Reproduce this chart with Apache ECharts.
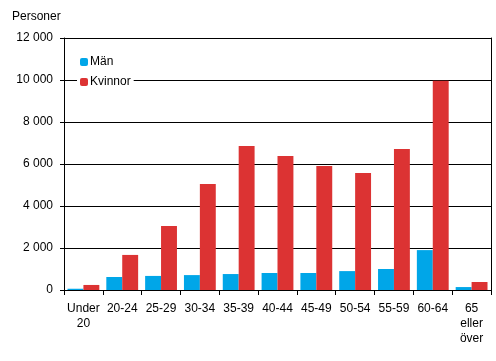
<!DOCTYPE html>
<html><head><meta charset="utf-8">
<script src="https://cdn.jsdelivr.net/npm/echarts@6/dist/echarts.min.js"></script>
<style>html,body{margin:0;padding:0;background:#fff}#c{width:496px;height:361px}</style>
</head><body><div id="c"></div>
<script>
var categories = ['Under\n20','20-24','25-29','30-34','35-39','40-44','45-49','50-54','55-59','60-64','65\neller\növer'];
var man = [60, 620, 670, 710, 760, 810, 810, 900, 1000, 1900, 140];
var kvinnor = [240, 1670, 3050, 5050, 6860, 6380, 5900, 5570, 6710, 9970, 380];
var yTicks = [0, 2000, 4000, 6000, 8000, 10000, 12000];
var font = 'Liberation Sans, Arial, sans-serif';
function fmt(v){ return v >= 1000 ? Math.floor(v/1000) + ' ' + String(v%1000).padStart(3,'0') : String(v); }
var chart = echarts.init(document.getElementById('c'));
chart.setOption({
  animation: false,
  textStyle: {fontFamily: font},
  grid: {left: 64, right: 5, top: 38, bottom: 71, containLabel: false},
  legend: {
    orient: 'vertical', left: 77, top: 54, itemWidth: 8, itemHeight: 8, itemGap: 8,
    backgroundColor: '#fff', padding: [2, 3, 2, 3],
    textStyle: {fontFamily: font, fontSize: 12, color: '#000', padding: [0,0,0,-3]},
    data: ['Män', 'Kvinnor']
  },
  graphic: [{type: 'text', left: 12, top: 11, style: {text: 'Personer', font: '12px ' + font, fill: '#000'}}],
  xAxis: {
    type: 'category', data: categories,
    axisLine: {lineStyle: {color: '#000', width: 1}},
    axisTick: {show: true, length: 5, lineStyle: {color: '#000'}},
    axisLabel: {color: '#000', fontSize: 12, lineHeight: 15, margin: 11, interval: 0}
  },
  yAxis: [{
    type: 'value', min: yTicks[0], max: yTicks[yTicks.length-1], interval: 2000,
    axisLine: {show: true, lineStyle: {color: '#000'}},
    axisTick: {show: true, length: 4, lineStyle: {color: '#000'}},
    splitLine: {lineStyle: {color: '#000', width: 1}},
    axisLabel: {color: '#000', fontSize: 12, margin: 11, formatter: fmt}
  }, {
    type: 'value', min: yTicks[0], max: yTicks[yTicks.length-1], interval: 2000, position: 'right',
    axisLine: {show: true, lineStyle: {color: '#000'}},
    axisTick: {show: false}, axisLabel: {show: false}, splitLine: {show: false}
  }],
  series: [
    {name: 'Män', type: 'bar', data: man, barGap: '0%', barCategoryGap: '18%', itemStyle: {color: '#00a6e8'}},
    {name: 'Kvinnor', type: 'bar', data: kvinnor, barGap: '0%', barCategoryGap: '18%', itemStyle: {color: '#dc3333'}}
  ]
});
</script></body></html>
